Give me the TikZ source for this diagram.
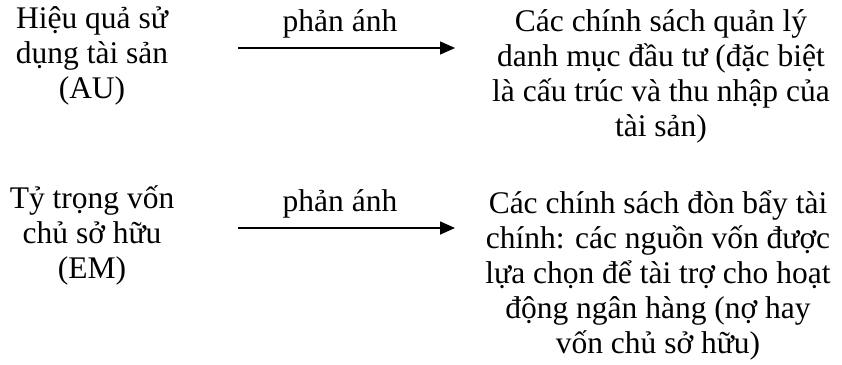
\documentclass[tikz,border=0pt]{standalone}
\usepackage{fontspec}
\setmainfont{Liberation Serif}
\usetikzlibrary{arrows.meta}

\tikzset{
    ratio/.style={align=center, inner sep=0, anchor=base,
        font=\fontsize{31.5}{35}\selectfont},
    policy/.style={ratio},
    verb/.style={ratio},
    link/.style={line width=1.6pt, -{Triangle[length=15pt, width=13pt]}}
}

\begin{document}
\begin{tikzpicture}[x=1pt, y=-1pt]
\useasboundingbox (0, 0) rectangle (842, 364);

% Asset utilisation (base = last line).
\node[ratio] (au) at (92, 98) {Hiệu quả sử\\dụng tài sản\\(AU)};
\node[verb] (v1) at (340, 31) {phản ánh};
\node[policy] (p1) at (661, 136)
    {Các chính sách quản lý\\danh mục đầu tư (đặc biệt\\là cấu trúc và thu nhập của\\tài sản)};
\coordinate (s1) at (238, 48);
\coordinate (e1) at (455, 48);
\draw[link] (s1) -- (e1);

% Equity multiplier.
\node[ratio] (em) at (92, 278) {Tỷ trọng vốn\\chủ sở hữu\\(EM)};
\node[verb] (v2) at (340, 211) {phản ánh};
\node[policy] (p2) at (658, 353)
    {Các chính sách đòn bẩy tài\\chính: các nguồn vốn được\\lựa chọn để tài trợ cho hoạt\\động ngân hàng (nợ hay\\vốn chủ sở hữu)};
\coordinate (s2) at (238, 228);
\coordinate (e2) at (455, 228);
\draw[link] (s2) -- (e2);

\end{tikzpicture}
\end{document}
